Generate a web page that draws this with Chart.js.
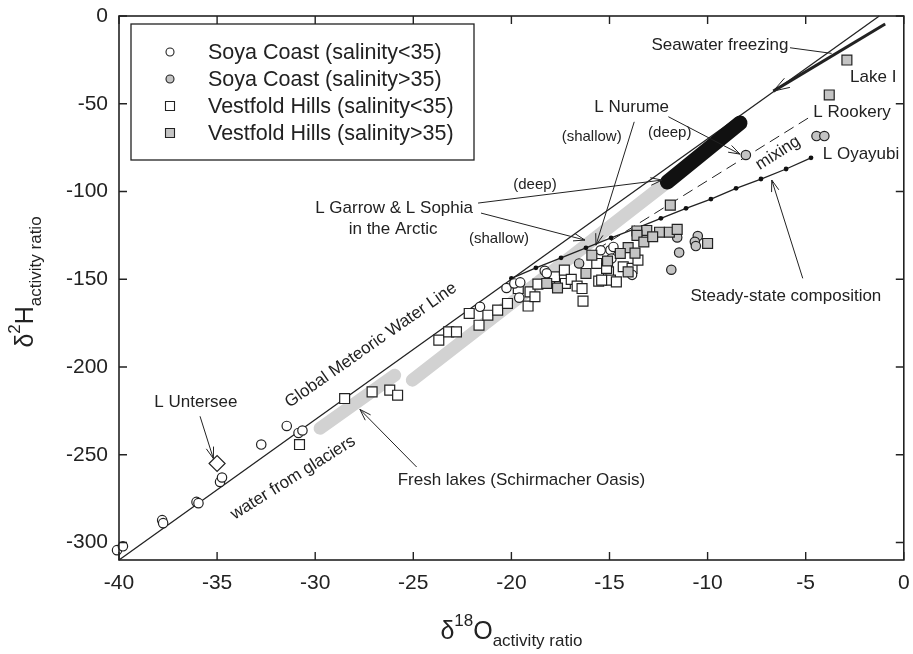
<!DOCTYPE html>
<html>
<head>
<meta charset="utf-8">
<script src="https://cdn.jsdelivr.net/npm/chart.js@4.4.0/dist/chart.umd.min.js"></script>
<style>
  html, body { margin: 0; padding: 0; background: #fff; }
  #wrap { width: 913px; height: 654px; }
</style>
</head>
<body>
<div id="wrap"><canvas id="myChart" width="913" height="654"></canvas></div>
<script>
const FONT = '"Liberation Sans", Arial, Helvetica, sans-serif'
const INK = '#222'
const GREY = '#c4c4c4'
const BAND = '#d2d2d2'

// axis ticks
const xTicks = [-40, -35, -30, -25, -20, -15, -10, -5, 0]
const yTicks = [-300, -250, -200, -150, -100, -50, 0]

// Soya Coast (salinity<35)
const soyaLowX = [-40.1, -39.8, -37.8, -37.75, -36.05, -35.95, -34.85, -34.75, -32.75, -31.45, -30.85, -30.65,
    -21.6, -20.25, -19.85, -19.55, -19.6, -18.3, -18.2, -15.45, -14.95, -14.8, -14.9, -13.85]
const soyaLowY = [-304.4, -302.2, -287.3, -289.0, -276.9, -277.6, -265.5, -263.0, -244.2, -233.6, -237.6, -236.2,
    -165.7, -155.0, -152.4, -151.8, -160.5, -145.2, -146.6, -133.5, -133.4, -131.6, -138.2, -147.5]

// Soya Coast (salinity>35)
const soyaHighX = [-8.05, -4.45, -4.05, -11.55, -10.5, -10.65, -10.6, -11.45, -11.85, -16.55]
const soyaHighY = [-79.2, -68.4, -68.4, -126.2, -125.4, -128.7, -131.1, -134.8, -144.6, -141.0]

// Vestfold Hills (salinity<35)
const vestLowX = [-30.8, -28.5, -27.1, -26.2, -25.8, -23.7, -23.2, -22.8, -22.15, -21.65, -21.2, -20.7, -20.2,
    -19.65, -19.15, -19.05, -18.8, -18.65, -18.05, -17.8, -17.3, -17.25, -16.95, -16.65, -16.4, -16.35,
    -15.65, -15.55, -15.05, -14.95, -15.15, -14.65, -14.3, -13.85, -13.55, -15.4]
const vestLowY = [-244.2, -218.0, -214.2, -213.2, -216.1, -184.7, -180.0, -180.0, -169.5, -176.2, -170.5, -167.6, -163.8,
    -155.3, -165.3, -157.2, -160.0, -152.8, -150.0, -148.6, -144.8, -152.4, -150.1, -153.9, -155.3, -162.5,
    -141.0, -151.1, -145.8, -150.5, -143.8, -151.5, -142.9, -143.8, -139.1, -150.5]

// Vestfold Hills (salinity>35)
const vestHighX = [-2.9, -3.8, -11.9, -13.6, -13.1, -12.45, -11.95, -11.55, -13.6, -13.25, -12.8, -14.05,
    -14.45, -13.7, -15.1, -15.9, -16.2, -18.2, -17.65, -14.05, -10.0]
const vestHighY = [-25.1, -45.0, -107.8, -122.5, -122.2, -123.2, -123.2, -121.6, -125.0, -128.8, -125.8, -132.0,
    -135.3, -135.1, -139.6, -136.3, -146.7, -152.4, -155.0, -145.8, -129.6]

// L Untersee
const unterseeX = [-35.0]
const unterseeY = [-255.0]

// Global Meteoric Water Line
const gmwlX = [-40, -1.25]
const gmwlY = [-310, 0]

// steady-state composition
const steadyX = [-20.0, -18.75, -17.47, -16.2, -14.92, -13.65, -12.38, -11.1, -9.83, -8.55, -7.28, -6.0, -4.73]
const steadyY = [-149.5, -143.5, -137.8, -132.1, -126.4, -121.0, -115.3, -109.6, -104.3, -98.2, -92.9, -87.2, -80.8]

// mixing line
const mixX = [-4.88, -15.5]
const mixY = [-58.2, -132]

// bands
const glacierBandX = [-29.75, -25.95]
const glacierBandY = [-234.9, -204.7]
const shallowBandX = [-25.05, -12.05]
const shallowBandY = [-207.5, -94.6]
const deepBandX = [-12.05, -8.35]
const deepBandY = [-94.6, -61.0]

// seawater freezing
const freezeX = [-0.95, -6.65]
const freezeY = [-4.6, -42.8]

const pts = (xs, ys) => xs.map((x, i) => ({ x, y: ys[i] }))

// text labels (data coordinates)
const labels = [
    { text: 'Seawater freezing', x: -9.37, y: -16.5, size: 17 },
    { text: 'Lake I', x: -2.74, y: -35.2, size: 17, align: 'left' },
    { text: 'L Rookery', x: -4.61, y: -54.7, size: 17, align: 'left' },
    { text: 'L Oyayubi', x: -4.13, y: -78.8, size: 17, align: 'left' },
    { text: 'mixing', x: -6.41, y: -78.1, size: 17, angle: -32.5 },
    { text: 'L Nurume', x: -13.87, y: -52.1, size: 17 },
    { text: '(shallow)', x: -15.91, y: -68.8, size: 15 },
    { text: '(deep)', x: -11.93, y: -66.5, size: 15 },
    { text: '(deep)', x: -18.8, y: -96.0, size: 15 },
    { text: '(shallow)', x: -20.63, y: -127.1, size: 15 },
    { text: 'L Garrow & L Sophia', x: -25.98, y: -109.6, size: 17 },
    { text: 'in the Arctic', x: -26.03, y: -121.6, size: 17 },
    { text: 'Global Meteoric Water Line', x: -27.16, y: -187.6, size: 17, angle: -35 },
    { text: 'water from glaciers', x: -31.13, y: -263.1, size: 17, angle: -32 },
    { text: 'L Untersee', x: -36.08, y: -220.2, size: 17 },
    { text: 'Fresh lakes (Schirmacher Oasis)', x: -19.49, y: -264.5, size: 17 },
    { text: 'Steady-state composition', x: -6.01, y: -160.0, size: 17 },
]

// leader lines [x1, y1, x2, y2, arrowhead]
const leaders = [
    [-5.80, -18.1, -3.68, -21.3, false],
    [-12.0, -57.4, -8.35, -78.7, true],
    [-13.74, -60.3, -15.69, -130.6, true],
    [-21.7, -106.6, -12.32, -93.5, true],
    [-21.55, -112.3, -16.25, -127.7, true],
    [-35.87, -228.1, -35.19, -252.2, true],
    [-24.83, -257.0, -27.72, -224.2, true],
    [-5.15, -149.5, -6.73, -93.5, true],
]

const line = (label, xs, ys, extra) => Object.assign({
    label, type: 'line', data: pts(xs, ys), showLine: true, pointRadius: 0,
    borderColor: INK, borderWidth: 1.3, fill: false, clip: false
}, extra)

const marks = (label, xs, ys, style, bg, radius, extra) => Object.assign({
    label, type: 'scatter', data: pts(xs, ys), pointStyle: style, pointRadius: radius,
    pointBackgroundColor: bg, pointBorderColor: INK, pointBorderWidth: 1.2, clip: false
}, extra)

const datasets = [
    line('glacier band', glacierBandX, glacierBandY, { borderColor: BAND, borderWidth: 13, borderCapStyle: 'round', order: 20 }),
    line('shallow band', shallowBandX, shallowBandY, { borderColor: BAND, borderWidth: 13, borderCapStyle: 'round', order: 19 }),
    line('GMWL', gmwlX, gmwlY, { order: 18 }),
    line('deep band', deepBandX, deepBandY, { borderColor: '#111', borderWidth: 15, borderCapStyle: 'round', order: 17 }),
    line('mixing', mixX, mixY, { borderWidth: 1, borderDash: [11, 6], order: 16 }),
    line('steady state', steadyX, steadyY, { pointRadius: 2.4, pointBackgroundColor: '#111', pointBorderWidth: 0, order: 15 }),
    line('seawater freezing', freezeX, freezeY, { borderWidth: 3, order: 14 }),
    marks('Vestfold Hills (salinity<35)', vestLowX, vestLowY, 'rect', '#fff', 7, { order: 5, inLegend: 3 }),
    marks('Soya Coast (salinity<35)', soyaLowX, soyaLowY, 'circle', '#fff', 4.7, { order: 4, inLegend: 1 }),
    marks('Soya Coast (salinity>35)', soyaHighX, soyaHighY, 'circle', GREY, 4.7, { order: 3, inLegend: 2 }),
    marks('Vestfold Hills (salinity>35)', vestHighX, vestHighY, 'rect', GREY, 7, { order: 2, inLegend: 4 }),
    marks('L Untersee', unterseeX, unterseeY, 'rectRot', '#fff', 8, { order: 1 }),
]

const arrow = (ctx, x1, y1, x2, y2, head, len = 12) => {
    ctx.beginPath()
    ctx.moveTo(x1, y1)
    ctx.lineTo(x2, y2)
    ctx.stroke()
    if (!head) return
    const a = Math.atan2(y2 - y1, x2 - x1)
    ctx.beginPath()
    ctx.moveTo(x2 - len * Math.cos(a - 0.32), y2 - len * Math.sin(a - 0.32))
    ctx.lineTo(x2, y2)
    ctx.lineTo(x2 - len * Math.cos(a + 0.32), y2 - len * Math.sin(a + 0.32))
    ctx.stroke()
}

// kill the automatic label overflow padding so the plot box keeps its place
const noPad = s => { s.paddingLeft = 0; s.paddingRight = 0; s.paddingTop = 0; s.paddingBottom = 0 }

// frame, inward ticks, legend, annotations and axis titles
const decor = {
    id: 'decor',
    afterDatasetsDraw(chart) {
        const { ctx, chartArea: a, scales } = chart
        const sx = scales.x, sy = scales.y
        ctx.save()
        ctx.strokeStyle = INK
        ctx.fillStyle = INK

        // leader lines
        ctx.lineWidth = 1
        leaders.forEach(([x1, y1, x2, y2, head]) => {
            arrow(ctx, sx.getPixelForValue(x1), sy.getPixelForValue(y1),
                sx.getPixelForValue(x2), sy.getPixelForValue(y2), head)
        })
        // seawater freezing head
        arrow(ctx, sx.getPixelForValue(freezeX[0]), sy.getPixelForValue(freezeY[0]),
            sx.getPixelForValue(freezeX[1]), sy.getPixelForValue(freezeY[1]), true, 17)

        // labels
        labels.forEach(l => {
            ctx.save()
            ctx.translate(sx.getPixelForValue(l.x), sy.getPixelForValue(l.y))
            if (l.angle) ctx.rotate(l.angle * Math.PI / 180)
            ctx.font = `${l.size}px ${FONT}`
            ctx.textAlign = l.align || 'center'
            ctx.textBaseline = 'middle'
            ctx.fillText(l.text, 0, 0)
            ctx.restore()
        })

        // frame
        ctx.lineWidth = 1.6
        ctx.strokeRect(a.left, a.top, a.right - a.left, a.bottom - a.top)

        // inward ticks on all sides
        const tl = 8
        ctx.lineWidth = 1.4
        ctx.beginPath()
        xTicks.forEach(v => {
            const p = sx.getPixelForValue(v)
            ctx.moveTo(p, a.bottom); ctx.lineTo(p, a.bottom - tl)
            ctx.moveTo(p, a.top); ctx.lineTo(p, a.top + tl)
        })
        yTicks.forEach(v => {
            const p = sy.getPixelForValue(v)
            ctx.moveTo(a.left, p); ctx.lineTo(a.left + tl, p)
            ctx.moveTo(a.right, p); ctx.lineTo(a.right - tl, p)
        })
        ctx.stroke()

        // legend
        const bx = a.left + 12, by = a.top + 8, bw = 343, bh = 136
        ctx.fillStyle = '#fff'
        ctx.fillRect(bx, by, bw, bh)
        ctx.lineWidth = 1.3
        ctx.strokeRect(bx, by, bw, bh)
        const rows = chart.data.datasets.filter(d => d.inLegend).sort((p, q) => p.inLegend - q.inLegend)
        rows.forEach((d, i) => {
            const cy = by + 28 + i * 27
            const cx = bx + 39
            ctx.beginPath()
            if (d.pointStyle === 'circle') ctx.arc(cx, cy, 4, 0, Math.PI * 2)
            else ctx.rect(cx - 4.5, cy - 4.5, 9, 9)
            ctx.fillStyle = d.pointBackgroundColor
            ctx.fill()
            ctx.lineWidth = 1.1
            ctx.stroke()
            ctx.fillStyle = INK
            ctx.font = `21.5px ${FONT}`
            ctx.textAlign = 'left'
            ctx.textBaseline = 'middle'
            ctx.fillText(d.label, bx + 77, cy + 1)
        })

        ctx.restore()
    },
    afterDraw(chart) {
        const { ctx, chartArea: a } = chart
        const big = `25px ${FONT}`, small = `17px ${FONT}`
        const parts = (segs) => {
            let w = 0
            segs.forEach(s => { ctx.font = s.f; s.w = ctx.measureText(s.t).width; w += s.w })
            return w
        }
        ctx.save()
        ctx.fillStyle = INK
        ctx.textAlign = 'left'
        ctx.textBaseline = 'alphabetic'

        // x title: δ18O activity ratio
        const xs = [
            { t: 'δ', f: big, dy: 0 }, { t: '18', f: small, dy: -13 },
            { t: 'O', f: big, dy: 0 }, { t: 'activity ratio', f: small, dy: 7 }
        ]
        let w = parts(xs)
        let cx = (a.left + a.right) / 2 - w / 2
        const base = a.bottom + 79
        xs.forEach(s => { ctx.font = s.f; ctx.fillText(s.t, cx, base + s.dy); cx += s.w })

        // y title: δ2H activity ratio
        const ys = [
            { t: 'δ', f: big, dy: 0 }, { t: '2', f: small, dy: -13 },
            { t: 'H', f: big, dy: 0 }, { t: 'activity ratio', f: small, dy: 8 }
        ]
        w = parts(ys)
        ctx.translate(33, 282)
        ctx.rotate(-Math.PI / 2)
        cx = -w / 2
        ys.forEach(s => { ctx.font = s.f; ctx.fillText(s.t, cx, s.dy); cx += s.w })
        ctx.restore()
    }
}

new Chart(document.getElementById('myChart'), {
    type: 'scatter',
    data: { datasets },
    options: {
        responsive: false,
        animation: false,
        layout: { padding: { top: 16, right: 9, left: 0, bottom: 0 } },
        plugins: {
            legend: { display: false },
            tooltip: { enabled: false }
        },
        scales: {
            x: {
                type: 'linear',
                min: -40,
                max: 0,
                afterBuildTicks: s => { s.ticks = xTicks.map(v => ({ value: v })) },
                afterFit: s => { s.height = 94; noPad(s) },
                grid: { display: false, drawTicks: false },
                border: { display: false },
                ticks: {
                    font: { family: FONT, size: 21 },
                    color: INK,
                    padding: 11,
                    maxRotation: 0,
                    callback: v => String(v)
                }
            },
            y: {
                type: 'linear',
                min: -310,
                max: 0,
                afterBuildTicks: s => { s.ticks = yTicks.map(v => ({ value: v })) },
                afterFit: s => { s.width = 119; noPad(s) },
                grid: { display: false, drawTicks: false },
                border: { display: false },
                ticks: {
                    font: { family: FONT, size: 21 },
                    color: INK,
                    padding: 11,
                    callback: v => String(v)
                }
            }
        }
    },
    plugins: [decor]
})
</script>
</body>
</html>
